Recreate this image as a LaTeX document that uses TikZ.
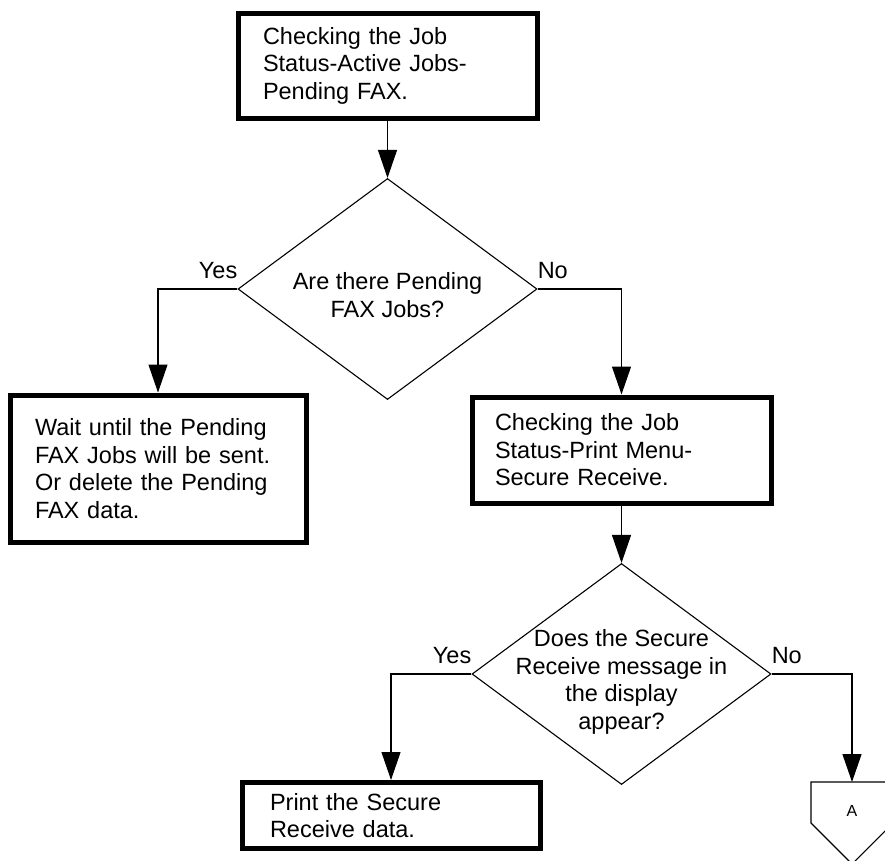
\documentclass[tikz,border=0pt]{standalone}
\usepackage{fontspec}
\setmainfont{Liberation Sans}
\usetikzlibrary{shapes.geometric, arrows.meta}
\begin{document}
\begin{tikzpicture}[x=1pt, y=-1pt,
  every node/.style={font=\fontsize{23.5}{27.5}\selectfont},
  procbox/.style={draw, line width=5pt, rectangle, align=left, inner ysep=0pt},
  decision/.style={draw, line width=1.1pt, diamond, minimum width=299pt, minimum height=221pt, inner sep=0pt},
  qtext/.style={align=center, inner sep=0pt},
  answer/.style={inner sep=0pt},
  flow/.style={line width=1.1pt, -{Triangle[length=28pt, width=19pt]}},
  thinline/.style={line width=1.1pt}
]
\useasboundingbox (0,0) rectangle (885,860);
\fill[white] (0,0) rectangle (885,860);
\clip (0,0) rectangle (885,860);

% process boxes
\node[procbox, text width=249pt, inner xsep=25pt, minimum height=105pt] (jobstatus) at (387.5,65.5)
  {Checking the Job\\Status-Active Jobs-\\Pending FAX.};
\node[procbox, text width=246pt, inner xsep=25pt, minimum height=147pt] (waitbox) at (158,468.5)
  {Wait until the Pending\\FAX Jobs will be sent.\\Or delete the Pending\\FAX data.};
\node[procbox, text width=253pt, inner xsep=23pt, minimum height=106pt] (secure) at (621.5,450)
  {Checking the Job\\Status-Print Menu-\\Secure Receive.};
\node[procbox, text width=242pt, inner xsep=28pt, minimum height=66pt] (printbox) at (391,815.5)
  {Print the Secure\\Receive data.};

% decisions
\node[decision] (pending) at (387.5,289) {};
\node[qtext] (pendingq) at (387.5,295) {Are there Pending\\FAX Jobs?};
\node[decision] (message) at (621.5,674) {};
\node[qtext] (messageq) at (621.5,682) {Does the Secure\\Receive message in\\the display\\appear?};

% off-page connector
\coordinate (conn) at (852,782);
\draw[thinline] (conn) ++(-41,0) -- ++(0,41) -- ++(41,41) -- ++(41,-41) -- ++(0,-41) -- cycle;
\node[answer, font=\fontsize{16}{19}\selectfont] (offA) at (852,811) {A};

% connectors
\draw[flow] (jobstatus.south) -- (pending.north);
\draw[flow] (pending.west) -| (waitbox.north);
\draw[flow] (pending.east) -| (secure.north);
\draw[flow] (secure.south) -- (message.north);
\draw[flow] (message.west) -| (printbox.north);
\draw[flow] (message.east) -| (conn);

% branch labels
\node[answer, anchor=base east] (yes1) at ([yshift=11pt]pending.west) {Yes};
\node[answer, anchor=base west] (no1) at ([yshift=11pt]pending.east) {No};
\node[answer, anchor=base east] (yes2) at ([yshift=11pt]message.west) {Yes};
\node[answer, anchor=base west] (no2) at ([yshift=11pt]message.east) {No};
\end{tikzpicture}
\end{document}
